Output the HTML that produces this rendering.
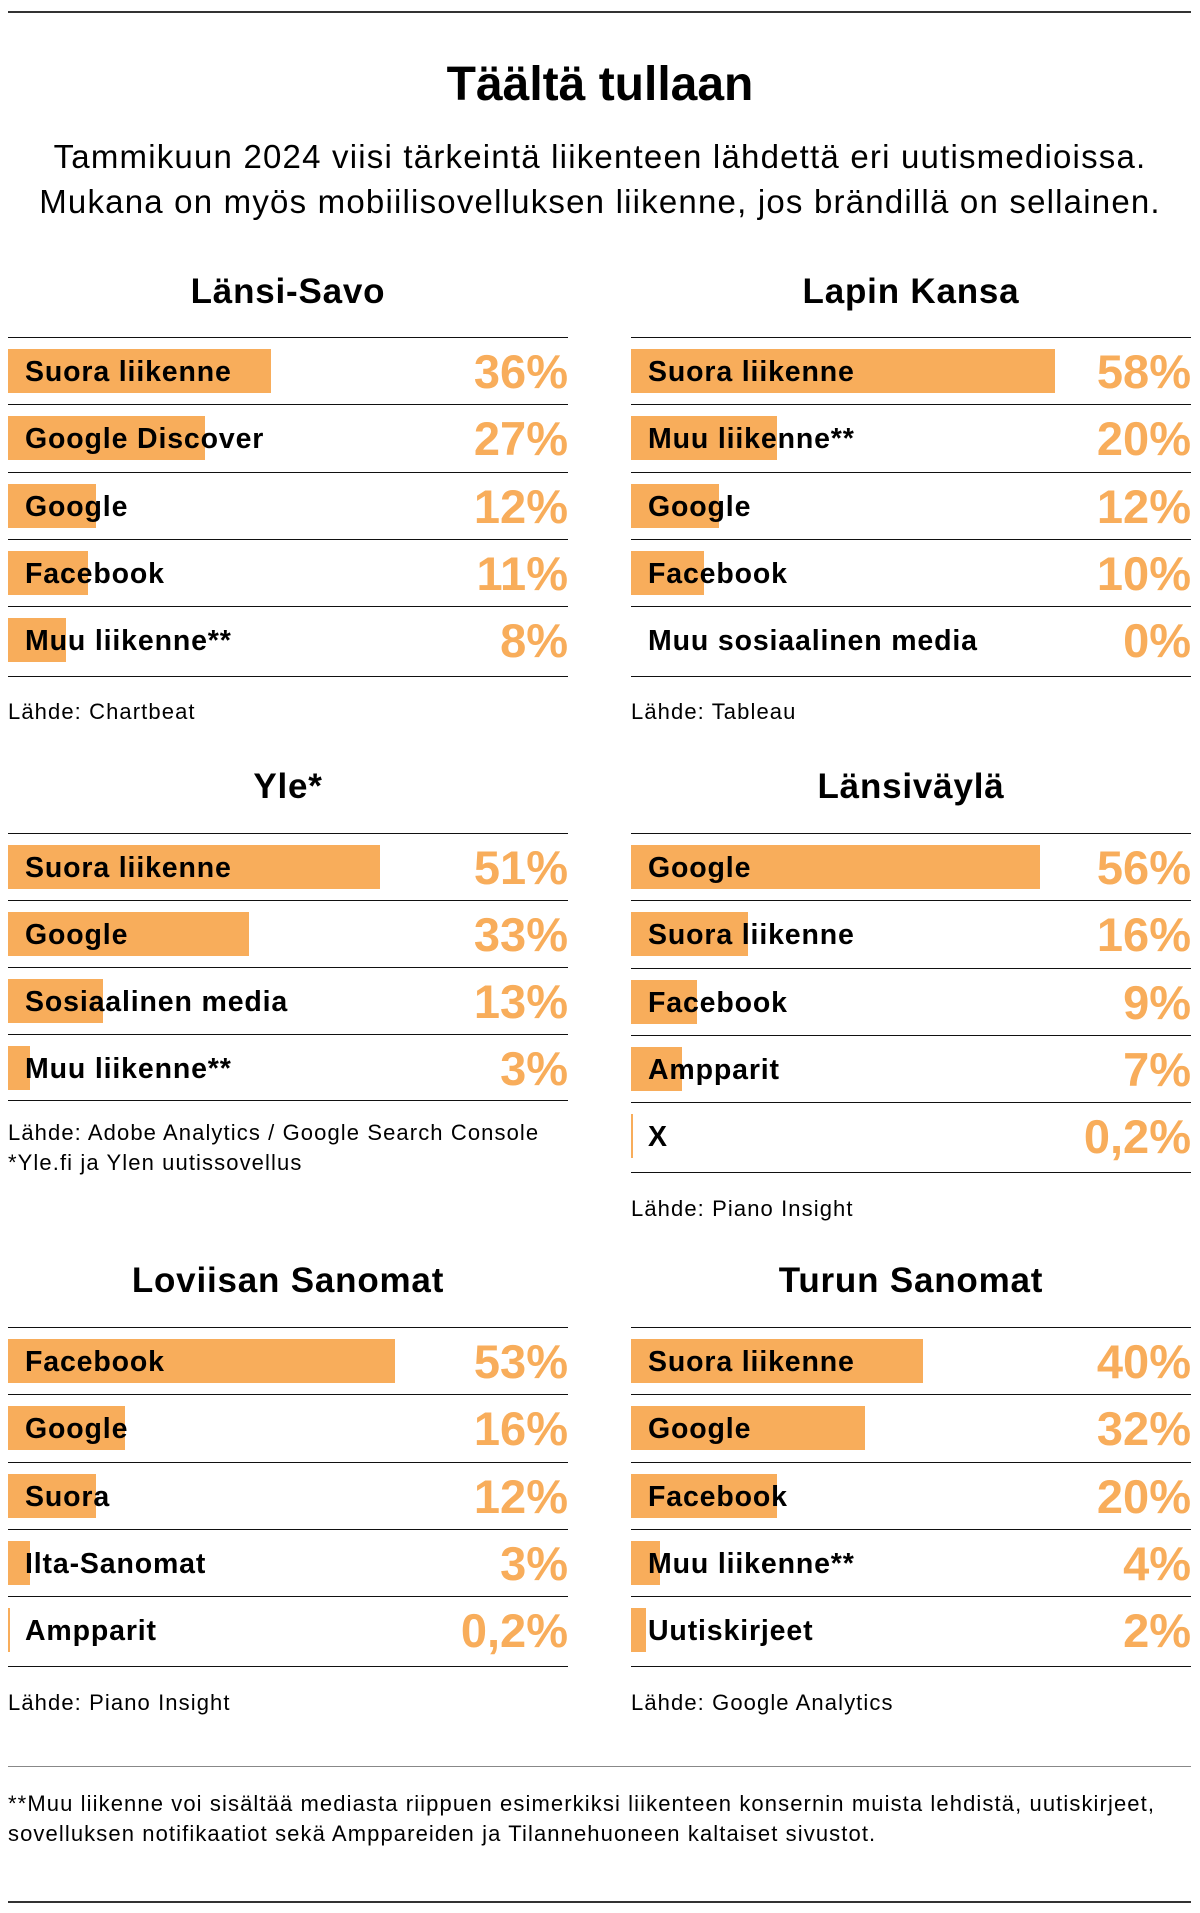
<!DOCTYPE html>
<html><head><meta charset="utf-8"><style>
body{margin:0;width:1200px;height:1913px;background:#fff;position:relative;font-family:"Liberation Sans",sans-serif;color:#000;overflow:hidden}
.a{position:absolute}
.title{left:0;width:1200px;text-align:center;font-weight:bold;font-size:48px;top:57px}
.sub{left:0;width:1200px;text-align:center;font-size:33px;letter-spacing:1.2px;line-height:45px;top:134px}
.h{font-weight:bold;font-size:35px;letter-spacing:0.8px;text-align:center;width:560px}
.p{position:absolute;width:560px}
.r{position:absolute;left:0;width:100%;height:67px;border-top:1.5px solid #111}
.b{position:absolute;left:0;top:11px;height:44px;background:#F8AD5B}
.l{position:absolute;left:17px;top:14px;font-weight:bold;font-size:28.5px;letter-spacing:0.85px;line-height:40px;white-space:nowrap}
.v{position:absolute;right:0;top:6px;font-weight:bold;font-size:47px;line-height:56px;color:#F8AD5B}
.end{position:absolute;left:0;width:100%;border-top:1.5px solid #111}
.s{font-size:22px;letter-spacing:1.1px;line-height:30px;white-space:nowrap}
</style></head><body>
<div class="a" style="left:8px;top:11px;width:1183px;border-top:2px solid #333"></div>
<div class="a title">Täältä tullaan</div>
<div class="a sub">Tammikuun 2024 viisi tärkeintä liikenteen lähdettä eri uutismedioissa.<br>Mukana on myös mobiilisovelluksen liikenne, jos brändillä on sellainen.</div>

<div class="a h" style="left:8px;top:272px">Länsi-Savo</div>
<div class="p" style="left:8px;top:337px">
<div class="r" style="top:0"><div class="b" style="width:263px"></div><div class="l">Suora liikenne</div><div class="v">36%</div></div>
<div class="r" style="top:67px"><div class="b" style="width:197px"></div><div class="l">Google Discover</div><div class="v">27%</div></div>
<div class="r" style="top:135px"><div class="b" style="width:88px"></div><div class="l">Google</div><div class="v">12%</div></div>
<div class="r" style="top:202px"><div class="b" style="width:80px"></div><div class="l">Facebook</div><div class="v">11%</div></div>
<div class="r" style="top:269px"><div class="b" style="width:58px"></div><div class="l">Muu liikenne**</div><div class="v">8%</div></div>
<div class="end" style="top:339px"></div>
</div>
<div class="a s" style="left:8px;top:697px">Lähde: Chartbeat</div>

<div class="a h" style="left:631px;top:272px">Lapin Kansa</div>
<div class="p" style="left:631px;top:337px">
<div class="r" style="top:0"><div class="b" style="width:424px"></div><div class="l">Suora liikenne</div><div class="v">58%</div></div>
<div class="r" style="top:67px"><div class="b" style="width:146px"></div><div class="l">Muu liikenne**</div><div class="v">20%</div></div>
<div class="r" style="top:135px"><div class="b" style="width:88px"></div><div class="l">Google</div><div class="v">12%</div></div>
<div class="r" style="top:202px"><div class="b" style="width:73px"></div><div class="l">Facebook</div><div class="v">10%</div></div>
<div class="r" style="top:269px"><div class="l">Muu sosiaalinen media</div><div class="v">0%</div></div>
<div class="end" style="top:339px"></div>
</div>
<div class="a s" style="left:631px;top:697px">Lähde: Tableau</div>

<div class="a h" style="left:8px;top:767px">Yle*</div>
<div class="p" style="left:8px;top:833px">
<div class="r" style="top:0"><div class="b" style="width:372px"></div><div class="l">Suora liikenne</div><div class="v">51%</div></div>
<div class="r" style="top:67px"><div class="b" style="width:241px"></div><div class="l">Google</div><div class="v">33%</div></div>
<div class="r" style="top:134px"><div class="b" style="width:95px"></div><div class="l">Sosiaalinen media</div><div class="v">13%</div></div>
<div class="r" style="top:201px"><div class="b" style="width:22px"></div><div class="l">Muu liikenne**</div><div class="v">3%</div></div>
<div class="end" style="top:267px"></div>
</div>
<div class="a s" style="left:8px;top:1118px">Lähde: Adobe Analytics / Google Search Console<br>*Yle.fi ja Ylen uutissovellus</div>

<div class="a h" style="left:631px;top:767px">Länsiväylä</div>
<div class="p" style="left:631px;top:833px">
<div class="r" style="top:0"><div class="b" style="width:409px"></div><div class="l">Google</div><div class="v">56%</div></div>
<div class="r" style="top:67px"><div class="b" style="width:117px"></div><div class="l">Suora liikenne</div><div class="v">16%</div></div>
<div class="r" style="top:135px"><div class="b" style="width:66px"></div><div class="l">Facebook</div><div class="v">9%</div></div>
<div class="r" style="top:202px"><div class="b" style="width:51px"></div><div class="l">Ampparit</div><div class="v">7%</div></div>
<div class="r" style="top:269px"><div class="b" style="width:2px"></div><div class="l">X</div><div class="v">0,2%</div></div>
<div class="end" style="top:339px"></div>
</div>
<div class="a s" style="left:631px;top:1194px">Lähde: Piano Insight</div>

<div class="a h" style="left:8px;top:1261px">Loviisan Sanomat</div>
<div class="p" style="left:8px;top:1327px">
<div class="r" style="top:0"><div class="b" style="width:387px"></div><div class="l">Facebook</div><div class="v">53%</div></div>
<div class="r" style="top:67px"><div class="b" style="width:117px"></div><div class="l">Google</div><div class="v">16%</div></div>
<div class="r" style="top:135px"><div class="b" style="width:88px"></div><div class="l">Suora</div><div class="v">12%</div></div>
<div class="r" style="top:202px"><div class="b" style="width:22px"></div><div class="l">Ilta-Sanomat</div><div class="v">3%</div></div>
<div class="r" style="top:269px"><div class="b" style="width:2px"></div><div class="l">Ampparit</div><div class="v">0,2%</div></div>
<div class="end" style="top:339px"></div>
</div>
<div class="a s" style="left:8px;top:1688px">Lähde: Piano Insight</div>

<div class="a h" style="left:631px;top:1261px">Turun Sanomat</div>
<div class="p" style="left:631px;top:1327px">
<div class="r" style="top:0"><div class="b" style="width:292px"></div><div class="l">Suora liikenne</div><div class="v">40%</div></div>
<div class="r" style="top:67px"><div class="b" style="width:234px"></div><div class="l">Google</div><div class="v">32%</div></div>
<div class="r" style="top:135px"><div class="b" style="width:146px"></div><div class="l">Facebook</div><div class="v">20%</div></div>
<div class="r" style="top:202px"><div class="b" style="width:29px"></div><div class="l">Muu liikenne**</div><div class="v">4%</div></div>
<div class="r" style="top:269px"><div class="b" style="width:15px"></div><div class="l">Uutiskirjeet</div><div class="v">2%</div></div>
<div class="end" style="top:339px"></div>
</div>
<div class="a s" style="left:631px;top:1688px">Lähde: Google Analytics</div>

<div class="a" style="left:8px;top:1766px;width:1183px;border-top:1.5px solid #888"></div>
<div class="a s" style="left:8px;top:1789px">**Muu liikenne voi sisältää mediasta riippuen esimerkiksi liikenteen konsernin muista lehdistä, uutiskirjeet,<br>sovelluksen notifikaatiot sekä Amppareiden ja Tilannehuoneen kaltaiset sivustot.</div>
<div class="a" style="left:8px;top:1901px;width:1183px;border-top:2px solid #333"></div>
</body></html>
